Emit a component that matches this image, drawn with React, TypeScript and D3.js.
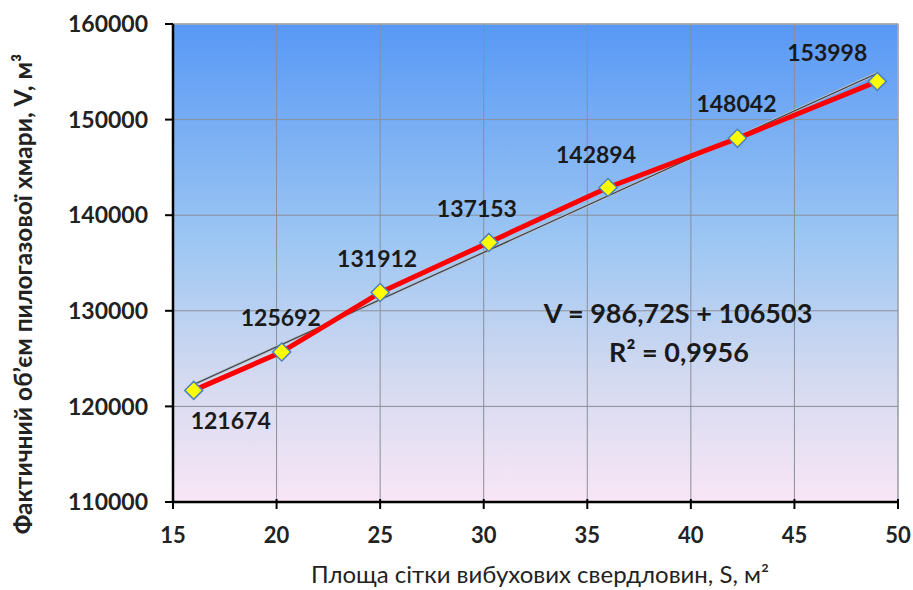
import React from "react";
import * as d3 from "d3";

const areaS = [16, 20.25, 25, 30.25, 36, 42.25, 49];
const volumeV = [121674, 125692, 131912, 137153, 142894, 148042, 153998];
const xTicks = [15, 20, 25, 30, 35, 40, 45, 50];
const yTicks = [110000, 120000, 130000, 140000, 150000, 160000];
const trendSlope = 986.72;
const trendIntercept = 106503;
const equationText = "V = 986,72S + 106503";
const r2Text = "R² = 0,9956";
const xTitle = "Площа сітки вибухових свердловин, S, м²";
const yTitle = "Фактичний об’єм пилогазової хмари, V, м³";
// label offsets (style): dx, dy from the point
const labelOffsets = [
  [37, 30],
  [-1, -34],
  [-3, -34],
  [-12, -34],
  [-12, -33],
  [-1, -35],
  [-50, -29],
];

const W = 913;
const H = 590;
const M = { left: 173, right: 898, top: 24, bottom: 502 };
const FONT = "Lato, 'Open Sans', sans-serif";
const R = 9;

export default function App() {
  const x = d3.scaleLinear().domain([15, 50]).range([M.left, M.right]);
  const y = d3.scaleLinear().domain([110000, 160000]).range([M.bottom, M.top]);
  const pts = areaS.map((s, i) => [x(s), y(volumeV[i])] as [number, number]);
  const line = d3.line()(pts) || "";
  const s0 = areaS[0];
  const s1 = areaS[areaS.length - 1];
  const trend =
    d3.line()([
      [x(s0), y(trendSlope * s0 + trendIntercept)],
      [x(s1), y(trendSlope * s1 + trendIntercept)],
    ]) || "";

  return (
    <svg
      width={W}
      height={H}
      style={{ position: "absolute", left: 0, top: 0, background: "#fff" }}
      fontFamily={FONT}
    >
      <defs>
        <linearGradient id="bg" x1="0" y1="0" x2="0" y2="1">
          <stop offset="0%" stopColor="#5898f5" />
          <stop offset="45%" stopColor="#9cc6f3" />
          <stop offset="75%" stopColor="#d5daf0" />
          <stop offset="100%" stopColor="#f9e6f6" />
        </linearGradient>
      </defs>
      <rect
        x={M.left}
        y={M.top}
        width={M.right - M.left}
        height={M.bottom - M.top}
        fill="url(#bg)"
        stroke="#c8c8c8"
        strokeWidth={1.5}
      />
      {xTicks.slice(1).map((t) => (
        <line key={"gx" + t} x1={x(t)} x2={x(t)} y1={M.top} y2={M.bottom} stroke="#8a8f99" strokeWidth={1} />
      ))}
      {yTicks.slice(1).map((t) => (
        <line key={"gy" + t} x1={M.left} x2={M.right} y1={y(t)} y2={y(t)} stroke="#8a8f99" strokeWidth={1} />
      ))}
      {/* axes */}
      <line x1={M.left} x2={M.left} y1={M.top} y2={M.bottom} stroke="#000" strokeWidth={2.5} />
      <line x1={M.left} x2={M.right} y1={M.bottom} y2={M.bottom} stroke="#000" strokeWidth={2.5} />
      {yTicks.map((t) => (
        <g key={"yt" + t}>
          <line x1={M.left - 8} x2={M.left} y1={y(t)} y2={y(t)} stroke="#000" strokeWidth={2} />
          <text x={M.left - 25} y={y(t)} dy="0.36em" textAnchor="end" fontSize={23} fontWeight={700} fill="#222">
            {t}
          </text>
        </g>
      ))}
      {xTicks.map((t) => (
        <g key={"xt" + t}>
          <line x1={x(t)} x2={x(t)} y1={M.bottom - 3} y2={M.bottom + 7} stroke="#000" strokeWidth={2} />
          <text x={x(t)} y={543} textAnchor="middle" fontSize={22} fontWeight={700} fill="#222">
            {t}
          </text>
        </g>
      ))}
      <text x={540} y={583} textAnchor="middle" fontSize={24} fill="#222">
        {xTitle}
      </text>
      <text
        transform={`translate(32, 294) rotate(-90)`}
        textAnchor="middle"
        fontSize={24.5}
        fontWeight={700}
        fill="#222"
      >
        {yTitle}
      </text>
      {/* trend line */}
      <path d={trend} fill="none" stroke="#b8c0cc" strokeWidth={3} />
      <path d={trend} fill="none" stroke="#3a3f48" strokeWidth={1.2} />
      {/* data line */}
      <path d={line} fill="none" stroke="#ff0000" strokeWidth={5} strokeLinejoin="round" />
      {pts.map(([px, py], i) => (
        <path
          key={"m" + i}
          d={`M${px},${py - R}L${px + R},${py}L${px},${py + R}L${px - R},${py}Z`}
          fill="#ffff00"
          stroke="#4f81bd"
          strokeWidth={1.5}
        />
      ))}
      {pts.map(([px, py], i) => (
        <text
          key={"l" + i}
          x={px + labelOffsets[i][0]}
          y={py + labelOffsets[i][1]}
          dy="0.36em"
          textAnchor="middle"
          fontSize={23}
          fontWeight={700}
          fill="#1a1a1a"
        >
          {volumeV[i]}
        </text>
      ))}
      <text x={678} y={313} dy="0.36em" textAnchor="middle" fontSize={27} fontWeight={700} fill="#1a1a1a">
        {equationText}
      </text>
      <text x={679} y={352} dy="0.36em" textAnchor="middle" fontSize={27} fontWeight={700} fill="#1a1a1a">
        {r2Text}
      </text>
    </svg>
  );
}
